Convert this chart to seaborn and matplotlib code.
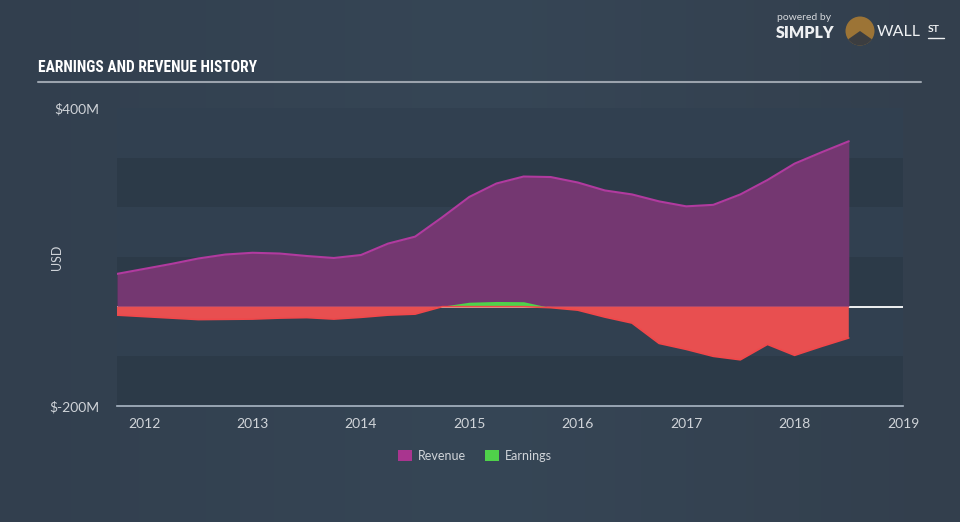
import numpy as np
import pandas as pd
import matplotlib
matplotlib.use("Agg")
import matplotlib.pyplot as plt
import seaborn as sns
from matplotlib.patches import Patch, Circle, Wedge
from matplotlib import font_manager
from matplotlib.colors import LinearSegmentedColormap

# ---- data (USD millions, quarterly) ----
periods = [2011.75, 2012.0, 2012.25, 2012.5, 2012.75, 2013.0, 2013.25, 2013.5, 2013.75,
           2014.0, 2014.25, 2014.5, 2014.75, 2015.0, 2015.25, 2015.5, 2015.75,
           2016.0, 2016.25, 2016.5, 2016.75, 2017.0, 2017.25, 2017.5, 2017.75,
           2018.0, 2018.25, 2018.5]
revenue = [66, 76, 86, 97, 105, 108.5, 107, 102, 98,
           104, 127, 141, 180, 221, 248, 262, 261,
           250, 234, 226, 212, 202, 205, 226, 255,
           288, 311, 333]
earnings = [-17, -20, -23, -26, -25.5, -25, -23, -22, -25,
            -21.5, -17, -15, 1, 9, 10.5, 10, -2,
            -7, -21, -33, -74, -86, -100, -107, -76,
            -98, -80, -63]
year_ticks = [2012, 2013, 2014, 2015, 2016, 2017, 2018, 2019]
y_ticks = [-200, 400]
y_tick_labels = ["$-200M", "$400M"]
series_names = ["Revenue", "Earnings"]

df = pd.DataFrame({"t": periods, "Revenue": revenue, "Earnings": earnings})

BG = "#344352"
PLOT_BG = "#314050"
BAND = "#2c3a48"
TXT = "#d0d4d9"
REV_FILL = "#7b3775"
REV_LINE = "#b13a9f"
RED_FILL = "#e84f50"
RED_LINE = "#f0474a"
GREEN_FILL = "#4fd24a"

sns.set_theme(style="white")
plt.rcParams["font.family"] = ["Lato", "DejaVu Sans"]

available = {f.name for f in font_manager.fontManager.ttflist}
cond_family = None
for cand in ["Liberation Sans Narrow", "Roboto Condensed", "Open Sans Condensed",
             "Noto Sans Condensed", "DejaVu Sans Condensed", "Arial Narrow"]:
    if cand in available:
        cond_family = cand
        break
if cond_family is None:
    for n in sorted(available):
        if "Condensed" in n or "Narrow" in n:
            cond_family = n
            break

fig = plt.figure(figsize=(9.6, 5.22), dpi=100)
fig.patch.set_facecolor(BG)

# background gradient
bgax = fig.add_axes([0, 0, 1, 1], zorder=-10)
grad = np.linspace(0, 1, 256)[None, :]
cmap = LinearSegmentedColormap.from_list("bg", ["#323f4e", "#364656", "#333f4d"])
bgax.imshow(np.vstack([grad] * 4), aspect="auto", cmap=cmap, extent=[0, 1, 0, 1])
bgax.axis("off")

ax = fig.add_axes([117 / 960, 1 - 406 / 522, (903 - 117) / 960, (406 - 108) / 522])
ax.set_facecolor("none")
ax.set_xlim(2011.75, 2019)
ax.set_ylim(-200, 400)

# alternating bands
for lo, hi in [(200, 300), (0, 100), (-200, -100)]:
    ax.axhspan(lo, hi, color=BAND, zorder=0, lw=0)
for lo, hi in [(300, 400), (100, 200), (-100, 0)]:
    ax.axhspan(lo, hi, color=PLOT_BG, zorder=0, lw=0)

# zero line
ax.axhline(0, color="white", lw=1.3, zorder=1)

t = np.array(periods, dtype=float)
rev = np.array(revenue, dtype=float)
ern = np.array(earnings, dtype=float)

ax.fill_between(t, 0, rev, color=REV_FILL, alpha=0.92, lw=0, zorder=2)
sns.lineplot(data=df, x="t", y="Revenue", ax=ax, color=REV_LINE, lw=1.5, zorder=3)

ax.fill_between(t, 0, ern, where=ern < 0, interpolate=True, color=RED_FILL, lw=0, zorder=4)
ax.fill_between(t, 0, ern, where=ern > 0, interpolate=True, color=GREEN_FILL, lw=0, zorder=4)
ax.plot(t, np.minimum(ern, 0), color=RED_LINE, lw=1.2, zorder=5)

ax.set_xlabel("")
ax.set_ylabel("")
for s in ["top", "right", "left"]:
    ax.spines[s].set_visible(False)
ax.spines["bottom"].set_color("#aab6c4")
ax.spines["bottom"].set_linewidth(1.2)
ax.set_xticks(year_ticks)
ax.set_xticklabels([str(y) for y in year_ticks])
ax.tick_params(axis="x", colors="#aab6c4", length=7, width=1, direction="out",
               labelcolor=TXT, labelsize=10, pad=2)
ax.tick_params(axis="y", length=0, labelcolor=TXT, labelsize=10, pad=13)
ax.set_yticks(y_ticks)
ax.set_yticklabels(y_tick_labels)
ax.grid(False)

fig.text(57 / 960, 1 - 257 / 522, "USD", rotation=90, color=TXT, fontsize=9,
         ha="center", va="center")

# title and rule
title_kw = dict(color="white", fontweight="bold", ha="left", va="center")
if cond_family:
    title_kw["family"] = [cond_family, "DejaVu Sans"]
else:
    title_kw["fontstretch"] = "condensed"
title = fig.text(38 / 960, 1 - 68 / 522, "EARNINGS AND REVENUE HISTORY",
                 fontsize=13.5, **title_kw)
fig.canvas.draw()
w = title.get_window_extent().width
target = 222.0
if w > target:
    title.set_fontsize(max(9.5, 13.5 * target / w))
fig.add_artist(plt.Line2D([38 / 960, 921 / 960], [1 - 82 / 522, 1 - 82 / 522],
                          color="#9ba3ad", lw=1.5))

# logo
fig.text(777 / 960, 1 - 18 / 522, "powered by", color="#d5d8dc", fontsize=7.5,
         ha="left", va="center")
fig.text(776 / 960, 1 - 32.5 / 522, "SIMPLY", color="#eef0f2", fontsize=11.5,
         fontweight="heavy", ha="left", va="center")
cx, cy = 8.60, (522 - 31) / 100
fig.add_artist(Circle((cx, cy), 0.145, transform=fig.dpi_scale_trans,
                      color="#9c7436", lw=0))
fig.add_artist(Wedge((cx, cy), 0.145, 215, 325, transform=fig.dpi_scale_trans,
                     color="#3b3d40", lw=0))
fig.text(877 / 960, 1 - 32.5 / 522, "WALL", color="#eef0f2", fontsize=11.5,
         ha="left", va="center")
fig.text(928 / 960, 1 - 29 / 522, "ST", color="#eef0f2", fontsize=7.5,
         fontweight="bold", ha="left", va="center")
fig.add_artist(plt.Line2D([928 / 960, 944 / 960], [1 - 37.5 / 522, 1 - 37.5 / 522],
                          color="#eef0f2", lw=1))

# legend
handles = [Patch(facecolor="#a9358f", edgecolor="none", label=series_names[0]),
           Patch(facecolor=GREEN_FILL, edgecolor="none", label=series_names[1])]
leg = fig.legend(handles=handles, loc="center", bbox_to_anchor=(475 / 960, 1 - 456 / 522),
                 ncol=2, frameon=False, handlelength=1.15, handleheight=1.0,
                 handletextpad=0.45, columnspacing=1.5, fontsize=9)
for txt in leg.get_texts():
    txt.set_color(TXT)

fig.savefig("out.png", dpi=100, facecolor=fig.get_facecolor())
